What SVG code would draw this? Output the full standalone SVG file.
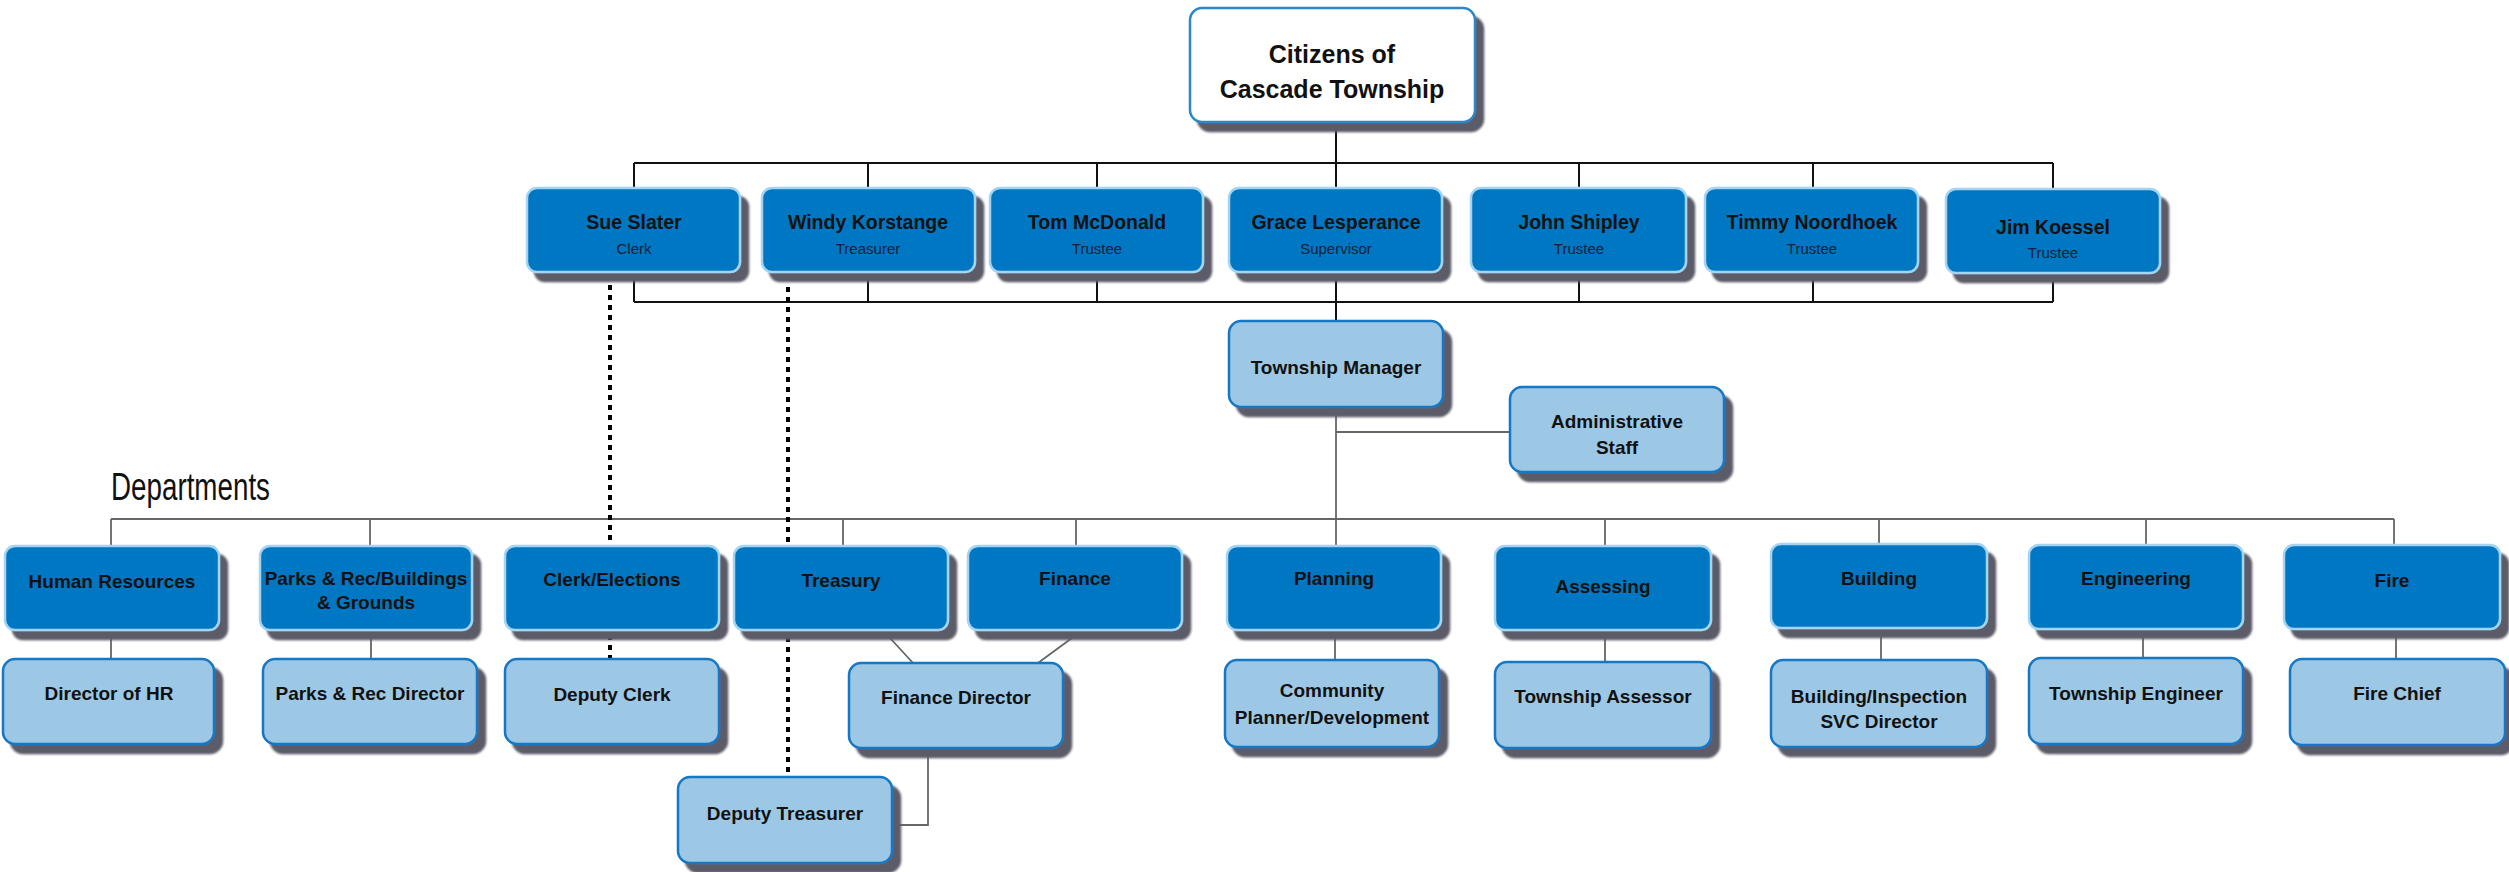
<svg xmlns="http://www.w3.org/2000/svg" width="2509" height="872" viewBox="0 0 2509 872">
<style>
  .t{font-family:"Liberation Sans",Arial,sans-serif;font-weight:bold;fill:#111;text-anchor:middle}
  .nm{font-size:19.5px}
  .sub{font-family:"Liberation Sans",Arial,sans-serif;font-size:15px;fill:#14213a;text-anchor:middle}
  .bx{font-size:19px}
  .dark{fill:#0277c2;stroke:#a3d4f2;stroke-width:2.5}
  .light{fill:#9dc8e5;stroke:#1677c5;stroke-width:2.5}
  .white{fill:#fff;stroke:#2a88c8;stroke-width:2.5}
  .blk{stroke:#111;stroke-width:2;fill:none}
  .gry{stroke:#666;stroke-width:1.8;fill:none}
  .dot{stroke:#000;stroke-width:4;stroke-dasharray:5 5;fill:none}
</style>
<defs>
  <filter id="sh" x="-10%" y="-10%" width="130%" height="140%">
    <feDropShadow dx="8" dy="9" stdDeviation="0.8" flood-color="#5c5b68" flood-opacity="1"/>
  </filter>
</defs>
<rect width="2509" height="872" fill="#fff"/>
<g id="connectors">
  <path class="blk" d="M1336,122 V163 M634,163 H2053 M634,163 V188 M868,163 V188 M1097,163 V188 M1336,163 V188 M1579,163 V188 M1813,163 V188 M2053,163 V188"/>
  <path class="blk" d="M634,302 H2053 M634,272 V302 M868,272 V302 M1097,272 V302 M1336,272 V321 M1579,272 V302 M1813,272 V302 M2053,272 V302"/>
  <path class="gry" d="M1336,407 V519 M1336,432 H1510 M111,519 H2394 M111,519 V546 M370,519 V546 M843,519 V546 M1076,519 V546 M1336,519 V546 M1605,519 V546 M1879,519 V546 M2146,519 V546 M2394,519 V546"/>
  <path class="gry" d="M111,630 V659 M371,630 V659 M1335,630 V660 M1605,630 V662 M1881,630 V660 M2143,630 V658 M2396,630 V659 M890,638 L913,663 M1072,638 L1038,663 M928,748 V825 H892"/>
  <path class="dot" d="M610,285 V659 M788,287 V777"/>
</g>
<g id="citizens"><rect class="white" x="1190" y="8" width="285" height="114" rx="12" filter="url(#sh)"/><text class="t" font-size="25" x="1332" y="63">Citizens of</text><text class="t" font-size="25" x="1332" y="98">Cascade Township</text></g>
<g id="sue"><rect class="dark" x="527" y="188" width="213" height="84" rx="10" filter="url(#sh)"/><text class="t nm" x="634" y="229">Sue Slater</text><text class="sub" x="634" y="254">Clerk</text></g>
<g id="windy"><rect class="dark" x="762" y="188" width="213" height="84" rx="10" filter="url(#sh)"/><text class="t nm" x="868" y="229">Windy Korstange</text><text class="sub" x="868" y="254">Treasurer</text></g>
<g id="tom"><rect class="dark" x="990" y="188" width="213" height="84" rx="10" filter="url(#sh)"/><text class="t nm" x="1097" y="229">Tom McDonald</text><text class="sub" x="1097" y="254">Trustee</text></g>
<g id="grace"><rect class="dark" x="1229" y="188" width="213" height="84" rx="10" filter="url(#sh)"/><text class="t nm" x="1336" y="229">Grace Lesperance</text><text class="sub" x="1336" y="254">Supervisor</text></g>
<g id="john"><rect class="dark" x="1471" y="188" width="215" height="84" rx="10" filter="url(#sh)"/><text class="t nm" x="1579" y="229">John Shipley</text><text class="sub" x="1579" y="254">Trustee</text></g>
<g id="timmy"><rect class="dark" x="1705" y="188" width="213" height="84" rx="10" filter="url(#sh)"/><text class="t nm" x="1812" y="229">Timmy Noordhoek</text><text class="sub" x="1812" y="254">Trustee</text></g>
<g id="jim"><rect class="dark" x="1946" y="189" width="214" height="84" rx="10" filter="url(#sh)"/><text class="t nm" x="2053" y="234">Jim Koessel</text><text class="sub" x="2053" y="258">Trustee</text></g>
<g id="manager"><rect class="light" x="1229" y="321" width="214" height="86" rx="12" filter="url(#sh)"/><text class="t bx" x="1336" y="374">Township Manager</text></g>
<g id="admin"><rect class="light" x="1510" y="387" width="214" height="85" rx="12" filter="url(#sh)"/><text class="t bx" x="1617" y="428">Administrative</text><text class="t bx" x="1617" y="454">Staff</text></g>
<text id="departments-label" x="111" y="500" font-family="'Liberation Sans',Arial,sans-serif" font-size="38" fill="#111" textLength="159" lengthAdjust="spacingAndGlyphs">Departments</text>
<g id="hr"><rect class="dark" x="5" y="546" width="214" height="84" rx="10" filter="url(#sh)"/><text class="t bx" x="112" y="588">Human Resources</text></g>
<g id="parks"><rect class="dark" x="260" y="546" width="212" height="84" rx="10" filter="url(#sh)"/><text class="t bx" x="366" y="585">Parks &amp; Rec/Buildings</text><text class="t bx" x="366" y="609">&amp; Grounds</text></g>
<g id="clerk"><rect class="dark" x="505" y="546" width="214" height="84" rx="10" filter="url(#sh)"/><text class="t bx" x="612" y="586">Clerk/Elections</text></g>
<g id="treasury"><rect class="dark" x="734" y="546" width="214" height="84" rx="10" filter="url(#sh)"/><text class="t bx" x="841" y="587">Treasury</text></g>
<g id="finance"><rect class="dark" x="968" y="546" width="214" height="84" rx="10" filter="url(#sh)"/><text class="t bx" x="1075" y="585">Finance</text></g>
<g id="planning"><rect class="dark" x="1227" y="546" width="214" height="84" rx="10" filter="url(#sh)"/><text class="t bx" x="1334" y="585">Planning</text></g>
<g id="assessing"><rect class="dark" x="1495" y="546" width="216" height="84" rx="10" filter="url(#sh)"/><text class="t bx" x="1603" y="593">Assessing</text></g>
<g id="building"><rect class="dark" x="1771" y="544" width="216" height="84" rx="10" filter="url(#sh)"/><text class="t bx" x="1879" y="585">Building</text></g>
<g id="engineering"><rect class="dark" x="2029" y="545" width="214" height="84" rx="10" filter="url(#sh)"/><text class="t bx" x="2136" y="585">Engineering</text></g>
<g id="fire"><rect class="dark" x="2284" y="545" width="216" height="84" rx="10" filter="url(#sh)"/><text class="t bx" x="2392" y="587">Fire</text></g>
<g id="dir-hr"><rect class="light" x="3" y="659" width="211" height="85" rx="12" filter="url(#sh)"/><text class="t bx" x="109" y="700">Director of HR</text></g>
<g id="parks-dir"><rect class="light" x="263" y="659" width="214" height="85" rx="12" filter="url(#sh)"/><text class="t bx" x="370" y="700">Parks &amp; Rec Director</text></g>
<g id="deputy-clerk"><rect class="light" x="505" y="659" width="214" height="85" rx="12" filter="url(#sh)"/><text class="t bx" x="612" y="701">Deputy Clerk</text></g>
<g id="finance-dir"><rect class="light" x="849" y="663" width="214" height="85" rx="12" filter="url(#sh)"/><text class="t bx" x="956" y="704">Finance Director</text></g>
<g id="deputy-treasurer"><rect class="light" x="678" y="777" width="214" height="86" rx="12" filter="url(#sh)"/><text class="t bx" x="785" y="820">Deputy Treasurer</text></g>
<g id="community"><rect class="light" x="1225" y="660" width="214" height="87" rx="12" filter="url(#sh)"/><text class="t bx" x="1332" y="697">Community</text><text class="t bx" x="1332" y="724">Planner/Development</text></g>
<g id="assessor"><rect class="light" x="1495" y="662" width="216" height="86" rx="12" filter="url(#sh)"/><text class="t bx" x="1603" y="703">Township Assessor</text></g>
<g id="inspection"><rect class="light" x="1771" y="660" width="216" height="87" rx="12" filter="url(#sh)"/><text class="t bx" x="1879" y="703">Building/Inspection</text><text class="t bx" x="1879" y="728">SVC Director</text></g>
<g id="engineer"><rect class="light" x="2029" y="658" width="214" height="86" rx="12" filter="url(#sh)"/><text class="t bx" x="2136" y="700">Township Engineer</text></g>
<g id="fire-chief"><rect class="light" x="2290" y="659" width="215" height="86" rx="12" filter="url(#sh)"/><text class="t bx" x="2397" y="700">Fire Chief</text></g>
</svg>
